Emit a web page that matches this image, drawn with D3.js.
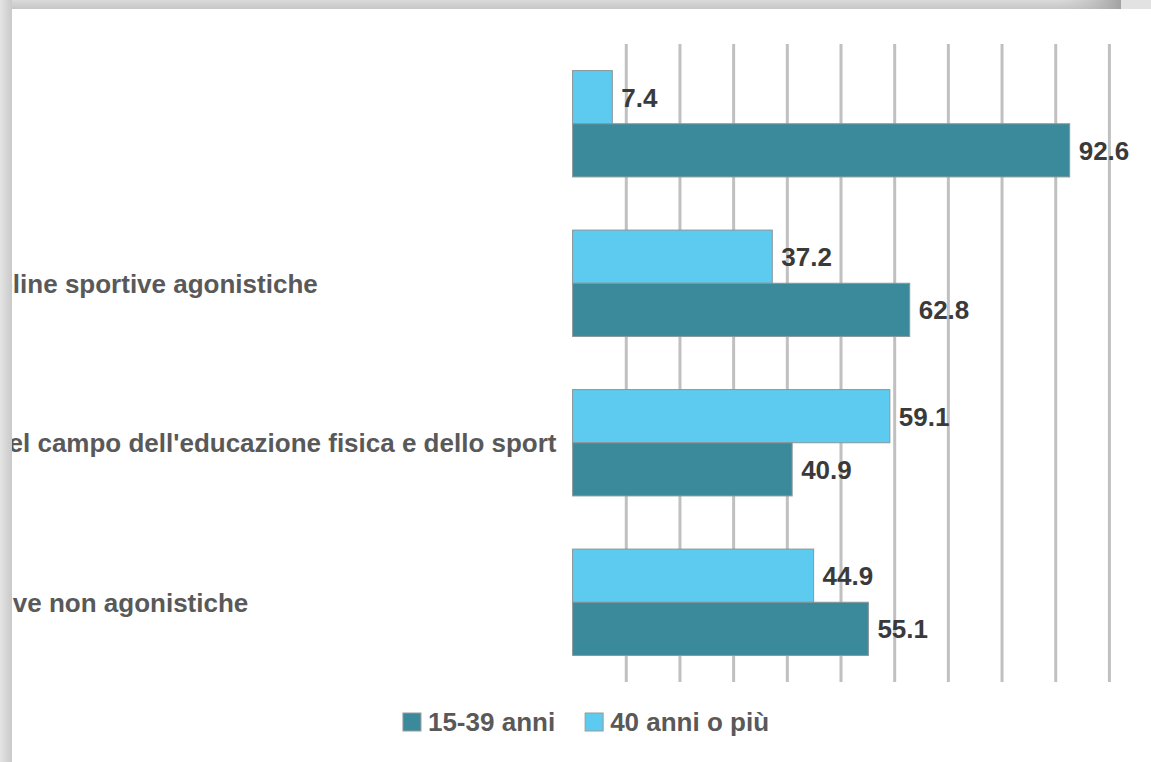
<!DOCTYPE html>
<html>
<head>
<meta charset="utf-8">
<script src="https://cdn.jsdelivr.net/npm/d3@7/dist/d3.min.js"></script>
<style>
  html, body { margin: 0; padding: 0; background: #ffffff; }
  svg { display: block; }
  text { font-family: "Liberation Sans", Arial, Helvetica, sans-serif; font-weight: bold; }
</style>
</head>
<body>
<script>
// Occupational groups (full label text; the label column starts off to the left)
const categories = [
  "Atleti",
  "Allenatori e tecnici di discipline sportive agonistiche",
  "Operatori e professionisti nel campo dell'educazione fisica e dello sport",
  "Istruttori di discipline sportive non agonistiche"
];
// Age groups, as listed in the legend
const seriesNames = ["15-39 anni", "40 anni o più"];
// Percentage share of each age group
const values1539 = [92.6, 62.8, 40.9, 55.1];
const values40plus = [7.4, 37.2, 59.1, 44.9];
// Vertical gridline positions (percent)
const gridTicks = [10, 20, 30, 40, 50, 60, 70, 80, 90, 100];

const W = 1151, H = 762;
const colors = { "15-39 anni": "#3b8a9c", "40 anni o più": "#5ccbef" };
const seriesValues = { "15-39 anni": values1539, "40 anni o più": values40plus };
// Within each group the older cohort is drawn above the younger one
const barOrder = ["40 anni o più", "15-39 anni"];

const svg = d3.select("body").append("svg").attr("width", W).attr("height", H);

// Card edges and drop shadow
const defs = svg.append("defs");
const gTop = defs.append("linearGradient").attr("id", "shTop").attr("x1", 0).attr("y1", 0).attr("x2", 0).attr("y2", 1);
gTop.append("stop").attr("offset", "0%").attr("stop-color", "#dadada");
gTop.append("stop").attr("offset", "100%").attr("stop-color", "#c6c6c6");
const gTopR = defs.append("linearGradient").attr("id", "shTopR").attr("x1", 0).attr("y1", 0).attr("x2", 1).attr("y2", 0);
gTopR.append("stop").attr("offset", "0%").attr("stop-color", "#c6c6c6").attr("stop-opacity", 0);
gTopR.append("stop").attr("offset", "100%").attr("stop-color", "#a2a2a2").attr("stop-opacity", 1);
const gLeft = defs.append("linearGradient").attr("id", "shLeft").attr("x1", 0).attr("y1", 0).attr("x2", 1).attr("y2", 0);
gLeft.append("stop").attr("offset", "0%").attr("stop-color", "#e4e4e4");
gLeft.append("stop").attr("offset", "100%").attr("stop-color", "#c9c9c9");

defs.append("clipPath").attr("id", "card")
  .append("rect").attr("x", 12).attr("y", 9).attr("width", W - 12).attr("height", H - 9);

svg.append("rect").attr("width", W).attr("height", H).attr("fill", "#ffffff");

const chart = svg.append("g").attr("clip-path", "url(#card)");

// Scales
const x = d3.scaleLinear().domain([0, 100]).range([572.6, 1109.4]);
const y0 = d3.scaleBand().domain(categories).range([44, 682]).padding(0);
const y1 = d3.scaleBand().domain(barOrder).range([0, y0.bandwidth()]).paddingInner(0).paddingOuter(0.5);

// Gridlines
chart.append("g")
  .selectAll("line")
  .data(gridTicks)
  .join("line")
  .attr("x1", d => x(d)).attr("x2", d => x(d))
  .attr("y1", y0.range()[0]).attr("y2", y0.range()[1])
  .attr("stroke", "#c0c0c0")
  .attr("stroke-width", 3);

// Category labels, left-aligned in a column that begins off the card
const labelX = -331;
chart.append("g")
  .selectAll("text")
  .data(categories)
  .join("text")
  .attr("x", labelX)
  .attr("y", d => y0(d) + y0.bandwidth() / 2)
  .attr("dy", "0.36em")
  .attr("font-size", 26)
  .attr("fill", "#595959")
  .text(d => d);

// Bars
const groups = chart.append("g")
  .selectAll("g")
  .data(categories.map((c, i) => ({ cat: c, i })))
  .join("g")
  .attr("transform", d => `translate(0,${y0(d.cat)})`);

const barData = d => barOrder.map(s => ({ s, v: seriesValues[s][d.i] }));

groups.selectAll("rect")
  .data(barData)
  .join("rect")
  .attr("x", x(0))
  .attr("y", d => y1(d.s))
  .attr("width", d => x(d.v) - x(0))
  .attr("height", y1.bandwidth())
  .attr("fill", d => colors[d.s])
  .attr("stroke", "#8a9699")
  .attr("stroke-width", 1);

// Value labels
groups.selectAll("text")
  .data(barData)
  .join("text")
  .attr("x", d => x(d.v) + 9)
  .attr("y", d => y1(d.s) + y1.bandwidth() / 2)
  .attr("dy", "0.36em")
  .attr("font-size", 26)
  .attr("fill", "#3a3a3a")
  .text(d => d3.format(".1f")(d.v));

// Legend
const legend = chart.append("g");
const legendCenter = 586;
const swatch = 18, gap = 7, itemGap = 30;
const items = legend.selectAll("g").data(seriesNames).join("g");
items.append("rect")
  .attr("width", swatch).attr("height", swatch)
  .attr("y", 713)
  .attr("fill", d => colors[d])
  .attr("stroke", "#9a9a9a").attr("stroke-width", 1);
items.append("text")
  .attr("x", swatch + gap)
  .attr("y", 722)
  .attr("dy", "0.36em")
  .attr("font-size", 26)
  .attr("fill", "#595959")
  .text(d => d);
let widths = [];
items.each(function () { widths.push(this.getBBox().width); });
const total = d3.sum(widths) + itemGap * (widths.length - 1);
let cx = legendCenter - total / 2;
items.attr("transform", (d, i) => {
  const t = `translate(${cx},0)`;
  cx += widths[i] + itemGap;
  return t;
});

// Shadow strips along the top and left edges of the card
svg.append("rect").attr("x", 0).attr("y", 0).attr("width", 1121).attr("height", 9).attr("fill", "url(#shTop)");
svg.append("rect").attr("x", 1060).attr("y", 0).attr("width", 61).attr("height", 9).attr("fill", "url(#shTopR)");
svg.append("rect").attr("x", 1121).attr("y", 0).attr("width", 30).attr("height", 9).attr("fill", "#e2e2e2");
svg.append("rect").attr("x", 0).attr("y", 0).attr("width", 12).attr("height", H).attr("fill", "url(#shLeft)");
</script>
</body>
</html>
